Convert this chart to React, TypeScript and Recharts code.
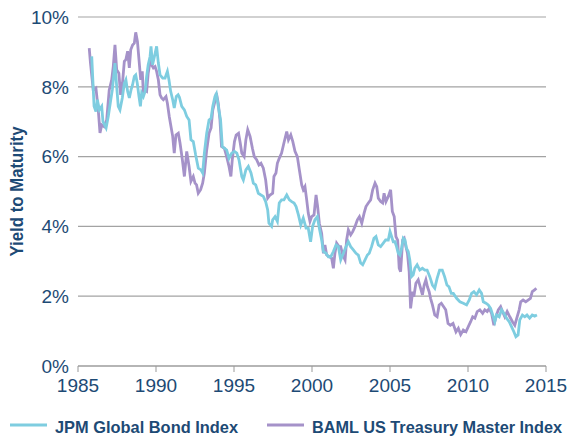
import React from 'react';
import { LineChart, Line, XAxis, YAxis, CartesianGrid } from 'recharts';

const jpmYears = [
  1985.88, 1985.94, 1986.03, 1986.15, 1986.24, 1986.37, 1986.52, 1986.6, 1986.8, 1986.94,
  1987.1, 1987.2, 1987.37, 1987.48, 1987.58, 1987.69, 1987.84, 1987.97, 1988.07, 1988.18,
  1988.29, 1988.4, 1988.5, 1988.61, 1988.7, 1988.8, 1988.91, 1989.0, 1989.08, 1989.19,
  1989.3, 1989.4, 1989.5, 1989.62, 1989.68, 1989.78, 1989.9, 1990.04, 1990.15, 1990.26,
  1990.43, 1990.58, 1990.73, 1990.83, 1990.94, 1991.07, 1991.17, 1991.3, 1991.42, 1991.5,
  1991.65, 1991.82, 1991.97, 1992.12, 1992.24, 1992.39, 1992.54, 1992.71, 1992.88, 1992.99,
  1993.1, 1993.25, 1993.4, 1993.53, 1993.64, 1993.78, 1993.87, 1993.99, 1994.14, 1994.25,
  1994.38, 1994.53, 1994.68, 1994.85, 1995.03, 1995.18, 1995.32, 1995.5, 1995.6, 1995.76,
  1995.92, 1996.09, 1996.24, 1996.39, 1996.56, 1996.73, 1996.88, 1997.03, 1997.16, 1997.24,
  1997.41, 1997.48, 1997.63, 1997.78, 1997.9, 1998.05, 1998.2, 1998.38, 1998.55, 1998.7,
  1998.85, 1998.98, 1999.13, 1999.28, 1999.44, 1999.62, 1999.76, 1999.91, 2000.04, 2000.19,
  2000.34, 2000.47, 2000.62, 2000.73, 2000.9, 2001.05, 2001.2, 2001.37, 2001.54, 2001.69,
  2001.84, 2002.01, 2002.18, 2002.33, 2002.48, 2002.65, 2002.82, 2002.97, 2003.12, 2003.25,
  2003.4, 2003.55, 2003.67, 2003.82, 2003.97, 2004.1, 2004.25, 2004.4, 2004.57, 2004.72,
  2004.89, 2005.0, 2005.1, 2005.21, 2005.32, 2005.42, 2005.53, 2005.64, 2005.74, 2005.85,
  2005.96, 2006.06, 2006.17, 2006.27, 2006.38, 2006.49, 2006.59, 2006.74, 2006.91, 2007.08,
  2007.23, 2007.38, 2007.55, 2007.72, 2007.87, 2008.02, 2008.18, 2008.35, 2008.5, 2008.65,
  2008.78, 2008.93, 2009.06, 2009.27, 2009.48, 2009.7, 2009.91, 2010.08, 2010.23, 2010.38,
  2010.55, 2010.72, 2010.87, 2010.98, 2011.15, 2011.3, 2011.45, 2011.62, 2011.72, 2011.83,
  2012.0, 2012.15, 2012.3, 2012.47, 2012.64, 2012.79, 2012.94, 2013.07, 2013.21, 2013.32,
  2013.49, 2013.64, 2013.78, 2013.95, 2014.12, 2014.27, 2014.42,
];

const jpmYield = [
  8.87, 8.3, 7.44, 7.29, 7.63, 7.34, 7.44, 7.0, 6.82, 7.15,
  7.63, 7.91, 8.68, 8.01, 7.44, 7.34, 7.68, 8.1, 8.2, 7.87,
  7.68, 7.91, 8.06, 8.3, 8.34, 8.1, 7.72, 7.44, 7.82, 7.72,
  7.87, 8.3, 8.63, 8.87, 9.16, 8.63, 8.87, 9.16, 8.68, 8.34,
  8.25, 8.25, 8.44, 8.2, 7.87, 7.63, 7.39, 7.72, 7.77, 7.7,
  7.44, 7.34, 7.15, 7.05, 6.48, 6.43, 6.05, 5.67, 5.62, 5.53,
  6.1, 6.67, 7.05, 7.1, 7.44, 7.72, 7.8, 7.44, 7.05, 6.29,
  6.24, 6.19, 5.95, 6.1, 6.15, 6.1, 5.91, 5.43, 5.33, 5.62,
  5.72, 5.53, 5.24, 5.19, 4.95, 4.9, 4.86, 4.71, 4.47, 4.09,
  4.0, 4.19, 4.28, 4.14, 4.67, 4.76, 4.76, 4.9, 4.76, 4.71,
  4.67, 4.57, 4.33, 4.04, 4.24, 3.95, 3.95, 3.56, 4.0, 4.19,
  4.28, 3.95, 3.61, 3.28, 3.23, 3.13, 3.13, 3.28, 3.47, 3.42,
  3.04, 3.23, 3.42, 3.56, 3.42, 3.33, 3.23, 3.18, 2.95, 2.9,
  3.04, 3.18, 3.23, 3.42, 3.66, 3.71, 3.47, 3.42, 3.52, 3.61,
  3.61, 3.85, 3.71, 3.56, 3.56, 3.42, 3.23, 3.18, 3.37, 3.66,
  3.61, 3.37, 3.28, 3.04, 2.56, 2.61, 2.8, 2.9, 2.75, 2.8,
  2.75, 2.75, 2.56, 2.32, 2.23, 2.51, 2.75, 2.75, 2.56, 2.32,
  2.27, 2.08, 2.08, 1.94, 1.84, 1.8, 1.75, 1.89, 2.08, 2.13,
  2.04, 2.18, 2.08, 1.84, 1.8, 1.75, 1.65, 1.41, 1.27, 1.46,
  1.41, 1.61, 1.51, 1.37, 1.27, 1.13, 0.98, 0.84, 0.89, 1.32,
  1.46, 1.41, 1.46, 1.37, 1.46, 1.43, 1.46,
];

const bamlYears = [
  1985.72, 1985.8, 1985.98, 1986.15, 1986.3, 1986.41, 1986.52, 1986.67, 1986.84, 1987.0,
  1987.16, 1987.26, 1987.37, 1987.48, 1987.62, 1987.73, 1987.86, 1987.97, 1988.07, 1988.18,
  1988.29, 1988.38, 1988.5, 1988.61, 1988.7, 1988.81, 1988.91, 1989.02, 1989.12, 1989.19,
  1989.3, 1989.4, 1989.5, 1989.62, 1989.72, 1989.83, 1989.94, 1990.04, 1990.15, 1990.26,
  1990.36, 1990.47, 1990.64, 1990.73, 1990.85, 1990.96, 1991.07, 1991.17, 1991.28, 1991.43,
  1991.54, 1991.69, 1991.82, 1991.97, 1992.12, 1992.24, 1992.39, 1992.5, 1992.6, 1992.71,
  1992.86, 1992.99, 1993.1, 1993.25, 1993.4, 1993.53, 1993.64, 1993.75, 1993.87, 1993.99,
  1994.1, 1994.2, 1994.38, 1994.53, 1994.68, 1994.8, 1994.89, 1995.03, 1995.14, 1995.29,
  1995.4, 1995.5, 1995.65, 1995.76, 1995.88, 1996.03, 1996.18, 1996.3, 1996.45, 1996.6,
  1996.73, 1996.88, 1997.03, 1997.16, 1997.31, 1997.48, 1997.56, 1997.69, 1997.78, 1997.9,
  1998.05, 1998.2, 1998.38, 1998.49, 1998.64, 1998.77, 1998.91, 1999.06, 1999.19, 1999.34,
  1999.44, 1999.55, 1999.66, 1999.76, 1999.87, 1999.98, 2000.13, 2000.26, 2000.36, 2000.47,
  2000.62, 2000.73, 2000.83, 2000.94, 2001.11, 2001.26, 2001.37, 2001.47, 2001.58, 2001.73,
  2001.84, 2001.97, 2002.12, 2002.22, 2002.33, 2002.48, 2002.61, 2002.76, 2002.91, 2003.04,
  2003.19, 2003.34, 2003.46, 2003.61, 2003.76, 2003.89, 2004.04, 2004.15, 2004.25, 2004.4,
  2004.53, 2004.62, 2004.74, 2004.89, 2005.04, 2005.15, 2005.27, 2005.38, 2005.49, 2005.59,
  2005.68, 2005.81, 2005.91, 2006.02, 2006.12, 2006.23, 2006.32, 2006.45, 2006.53, 2006.66,
  2006.81, 2006.96, 2007.08, 2007.19, 2007.3, 2007.4, 2007.51, 2007.6, 2007.72, 2007.87,
  2008.02, 2008.15, 2008.29, 2008.44, 2008.57, 2008.72, 2008.87, 2009.04, 2009.23, 2009.38,
  2009.53, 2009.7, 2009.87, 2010.02, 2010.17, 2010.3, 2010.44, 2010.59, 2010.76, 2010.94,
  2011.08, 2011.23, 2011.36, 2011.51, 2011.66, 2011.79, 2011.94, 2012.09, 2012.21, 2012.36,
  2012.51, 2012.68, 2012.85, 2013.0, 2013.15, 2013.28, 2013.38, 2013.53, 2013.7, 2013.85,
  2014.0, 2014.12, 2014.27, 2014.38,
];

const bamlYield = [
  9.11, 8.68, 7.9, 7.96, 7.34, 6.68, 6.91, 6.86, 7.05, 7.9,
  8.2, 8.58, 9.2, 8.49, 8.39, 7.77, 8.15, 8.73, 8.78, 9.02,
  8.54, 9.06, 9.2, 9.25, 9.56, 9.3, 8.78, 8.2, 8.44, 7.82,
  7.9, 7.87, 8.39, 8.73, 8.63, 8.54, 8.58, 8.44, 8.2, 7.77,
  7.68, 7.63, 7.72, 7.53, 7.15, 6.86, 6.58, 6.1, 6.62, 6.67,
  6.39, 5.91, 5.43, 6.15, 5.72, 5.29, 5.43, 5.24, 5.19, 4.95,
  5.05, 5.24, 5.53, 6.19, 6.67, 6.82, 7.34, 7.53, 7.82, 7.53,
  7.05, 6.29, 6.24, 6.0, 5.72, 5.43, 5.91, 6.43, 6.62, 6.67,
  6.39, 6.1, 6.0, 6.48, 6.77, 6.58, 6.24, 6.0, 5.91, 5.76,
  5.81, 5.67, 5.33, 4.81, 4.9, 4.95, 5.43, 5.53, 5.81, 5.95,
  6.1, 6.39, 6.72, 6.48, 6.62, 6.43, 6.15, 6.0, 5.62, 5.19,
  5.05, 5.14, 4.76, 4.38, 4.14, 4.28, 4.33, 4.9, 4.57, 4.09,
  3.8, 3.23, 3.47, 3.18, 3.13, 3.09, 2.8, 3.23, 3.52, 3.42,
  3.42, 3.18, 3.04, 3.61, 3.9, 3.76, 3.85, 4.0, 4.19, 4.28,
  4.09, 4.38, 4.57, 4.67, 4.76, 5.05, 5.24, 5.14, 4.81, 4.71,
  4.67, 4.95, 4.71, 4.86, 5.05, 4.43, 4.28, 3.71, 3.61, 2.8,
  2.7, 3.61, 3.66, 3.42, 3.23, 2.7, 1.65, 2.13, 1.99, 2.37,
  2.47, 2.23, 2.04, 2.32, 2.47, 2.27, 2.13, 1.94, 1.75, 1.46,
  1.41, 1.75, 1.8, 1.7, 1.61, 1.22, 1.17, 1.22, 0.98, 1.08,
  0.9, 1.03, 0.98, 1.13, 1.27, 1.41, 1.37, 1.56, 1.61, 1.51,
  1.61, 1.56, 1.65, 1.51, 1.17, 1.41, 1.61, 1.7, 1.56, 1.41,
  1.56, 1.41, 1.27, 1.17, 1.41, 1.61, 1.84, 1.89, 1.84, 1.89,
  1.94, 2.13, 2.18, 2.23,
];

const yearTicks = [1985, 1990, 1995, 2000, 2005, 2010, 2015];
const yieldTicks = [0, 2, 4, 6, 8, 10];

const jpmData = jpmYears.map((year, i) => ({ year, value: jpmYield[i] }));
const bamlData = bamlYears.map((year, i) => ({ year, value: bamlYield[i] }));

const TEXT = '#1d4a75';
const FONT = "'Liberation Sans', Arial, sans-serif";
const JPM_COLOR = '#7ecde0';
const BAML_COLOR = '#a592c9';

// axis title squeezed to look like the condensed face of the original
const YLabel = (props: any) => {
  const vb = props.viewBox || { x: 0, y: 17, width: 78, height: 349 };
  const cx = 17;
  const cy = vb.y + vb.height / 2;
  return (
    <text
      x={cx}
      y={cy}
      transform={`rotate(-90 ${cx} ${cy})`}
      textAnchor="middle"
      dominantBaseline="central"
      fill={TEXT}
      fontFamily={FONT}
      fontWeight="bold"
      fontSize={18}
      textLength={130}
      lengthAdjust="spacingAndGlyphs"
    >
      Yield to Maturity
    </text>
  );
};

const legendItems = [
  { name: 'JPM Global Bond Index', color: JPM_COLOR, x: 10, width: 183 },
  { name: 'BAML US Treasury Master Index', color: BAML_COLOR, x: 267, width: 250 },
];

export default function App() {
  return (
    <div style={{ position: 'absolute', left: 0, top: 0, width: 569, height: 438, background: '#fff' }}>
      <LineChart width={569} height={438} margin={{ top: 17, right: 23, bottom: 42, left: 0 }}>
        <CartesianGrid horizontal vertical={false} stroke="#a3a3a3" strokeWidth={1.2} />
        <XAxis
          type="number"
          dataKey="year"
          domain={[1985, 2015]}
          ticks={yearTicks}
          height={30}
          stroke="#999"
          tickSize={6}
          tickMargin={7}
          tick={{ fill: TEXT, fontSize: 19, fontFamily: FONT }}
        />
        <YAxis
          type="number"
          domain={[0, 10]}
          ticks={yieldTicks}
          width={78}
          axisLine={false}
          tickLine={false}
          tickSize={0}
          tickMargin={9}
          tickFormatter={(v) => `${v}%`}
          tick={{ fill: TEXT, fontSize: 19, fontFamily: FONT }}
          label={<YLabel />}
        />
        <Line
          data={bamlData}
          dataKey="value"
          type="linear"
          stroke={BAML_COLOR}
          strokeWidth={2.8}
          dot={false}
          isAnimationActive={false}
        />
        <Line
          data={jpmData}
          dataKey="value"
          type="linear"
          stroke={JPM_COLOR}
          strokeWidth={2.8}
          dot={false}
          isAnimationActive={false}
        />
      </LineChart>
      <svg width={569} height={30} style={{ position: 'absolute', left: 0, top: 408 }}>
        {legendItems.map((item) => (
          <g key={item.name}>
            <line x1={item.x} x2={item.x + 37} y1={17} y2={17} stroke={item.color} strokeWidth={3} />
            <text
              x={item.x + 45}
              y={24.5}
              fill={TEXT}
              fontFamily={FONT}
              fontWeight="bold"
              fontSize={16.5}
              textLength={item.width}
              lengthAdjust="spacingAndGlyphs"
            >
              {item.name}
            </text>
          </g>
        ))}
      </svg>
    </div>
  );
}
